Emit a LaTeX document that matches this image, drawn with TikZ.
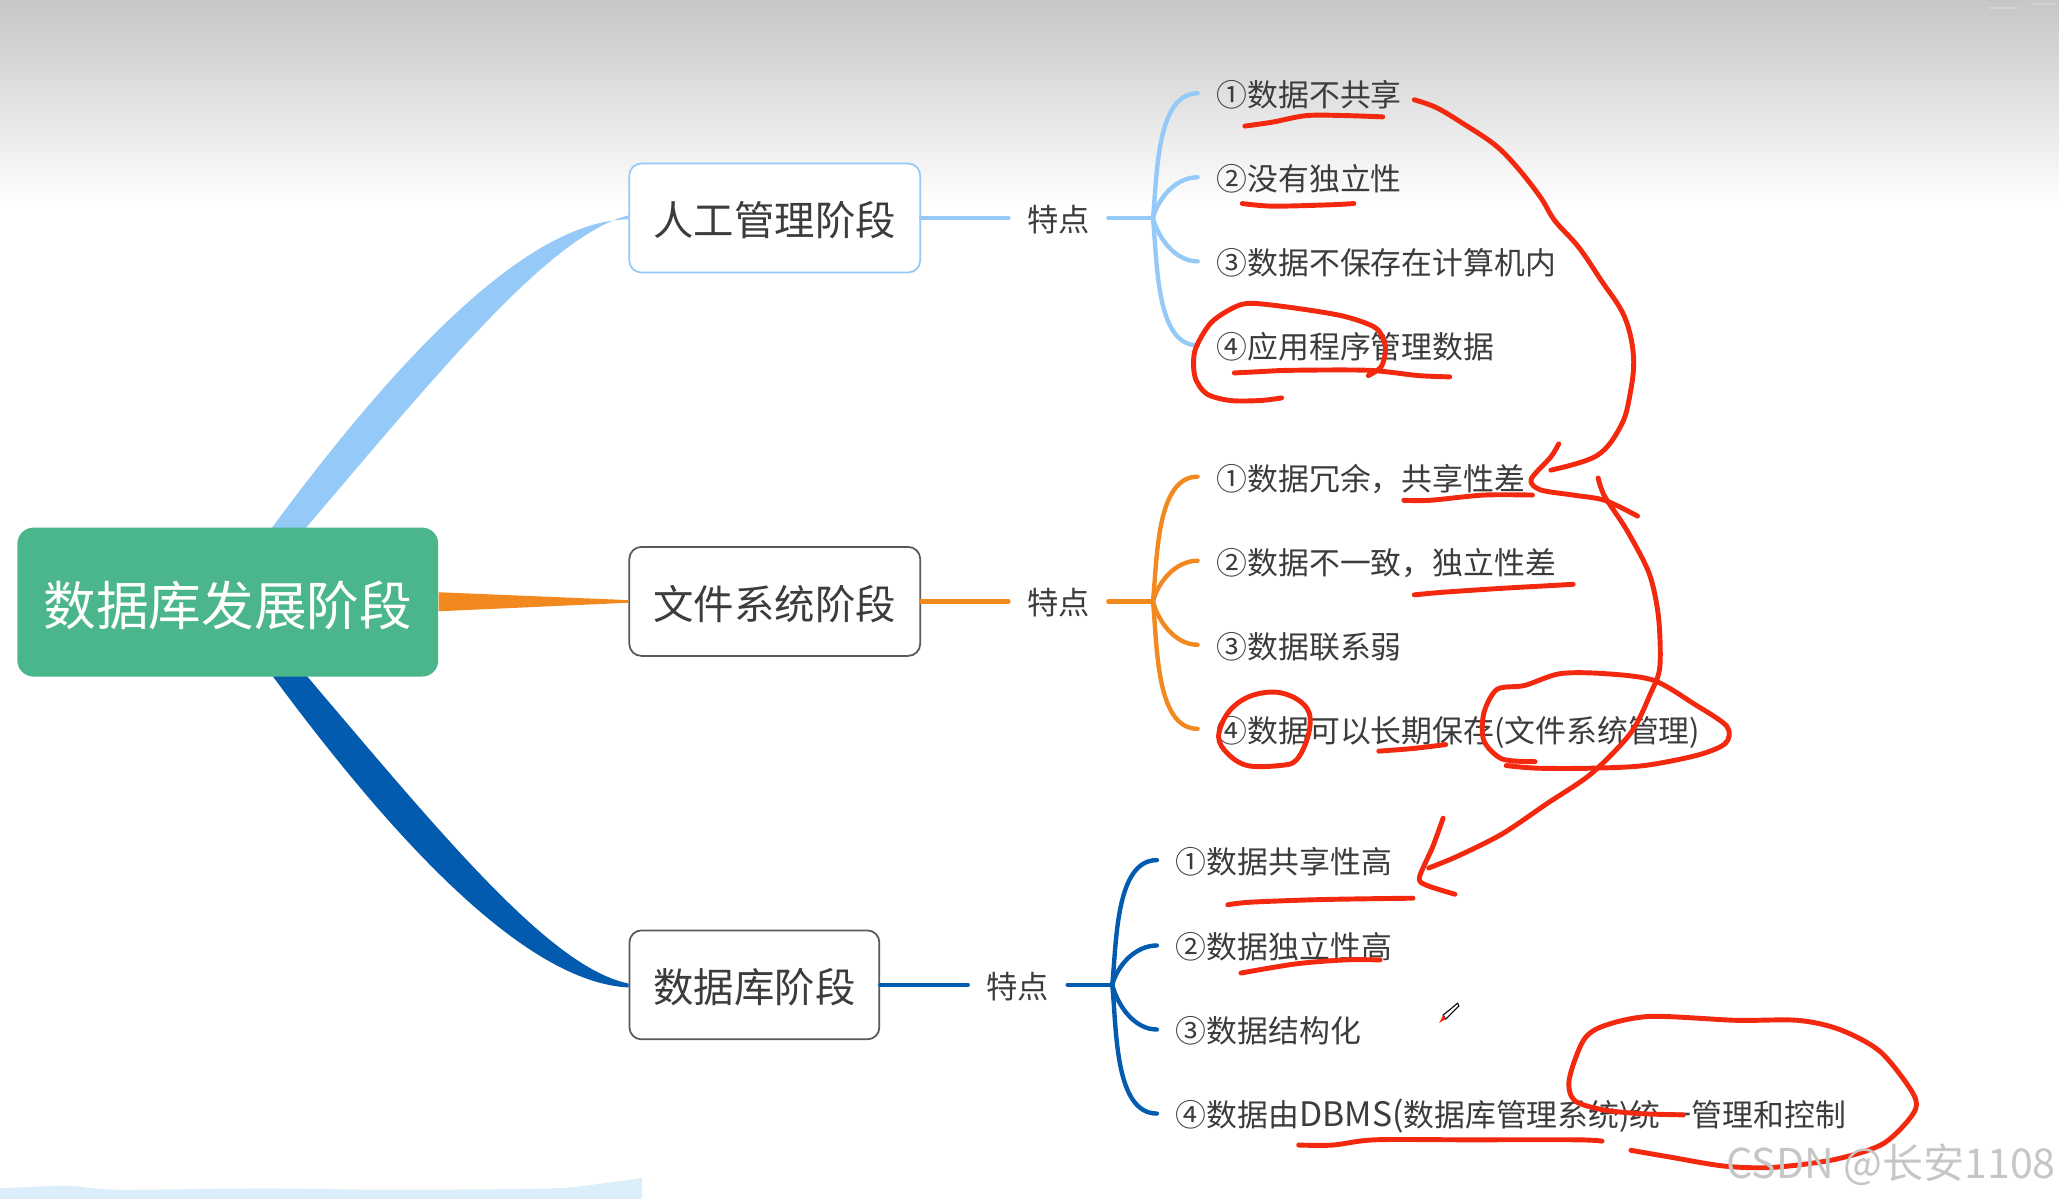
\documentclass[tikz,border=0pt]{standalone}
\usepackage{fontspec}
\setmainfont{Noto Sans CJK SC}
\usetikzlibrary{calc,positioning}
\definecolor{rootgreen}{HTML}{4BB58C}
\definecolor{skyline}{HTML}{95C9F8}
\definecolor{orangeline}{HTML}{F2891E}
\definecolor{blueline}{HTML}{025BAE}
\definecolor{ink}{HTML}{3C3C3C}
\definecolor{penred}{HTML}{F3290F}
\definecolor{topgray}{HTML}{C6C6C6}
\definecolor{paleblue}{HTML}{DCEEFA}

\begin{document}
\begin{tikzpicture}[
  x=0.013131cm, y=-0.013131cm,
  rootnode/.style={rectangle, rounded corners=1.6mm, fill=rootgreen, text=white, minimum width=4.21cm, minimum height=1.49cm, inner sep=0pt, text height=16pt, text depth=2.4pt, font=\fontsize{15}{18}\selectfont},
  stagenode/.style={rectangle, rounded corners=1.2mm, draw=#1, fill=white, text=ink, line width=0.5pt, minimum height=1.09cm, inner sep=0pt, text height=12pt, text depth=1.8pt, font=\fontsize{11.5}{14}\selectfont},
  tagnode/.style={text=ink, inner xsep=0.18cm, inner ysep=1pt, text height=9pt, text depth=1.4pt, font=\fontsize{8.9}{11}\selectfont},
  itemnode/.style={anchor=west, text=ink, inner xsep=0.184cm, inner ysep=1pt, text height=9pt, text depth=1.4pt, font=\fontsize{8.78}{11}\selectfont},
  branch/.style={line width=1.25pt, line cap=round},
  redpen/.style={penred, line width=1.4pt, line cap=round, line join=round}
]
  % page and the two smudges from the screenshot
  \fill[white] (0,0) rectangle (1568,913);
  \shade[top color=topgray, bottom color=white] (0,0) rectangle (1568,157);
  \fill[paleblue] plot[smooth, tension=0.5] coordinates {(0,905) (50,903) (90,906) (200,905) (300,906) (420,905) (460,901) (489,897)} -- (489,913) -- (0,913) -- cycle;
  \draw[gray!35, line width=0.5pt] (1514,6) -- (1537,6) (1548,3) -- (1566,3);

  \node[stagenode=skyline, minimum width=2.91cm] (stage1) at (590,166) {人工管理阶段};
  \node[stagenode=ink!85, minimum width=2.91cm] (stage2) at (590,458) {文件系统阶段};
  \node[stagenode=ink!85, minimum width=2.5cm] (stage3) at (574.5,750) {数据库阶段};

  % ribbons into the stages, the root goes on top of their ends
  \fill[skyline] (207,402) .. controls (300,276) and (400,168) .. ($(stage1.west)+(0,1)$) -- ($(stage1.west)+(0,-2)$) .. controls (420,179) and (340,276) .. (233,402) -- cycle;
  \fill[orangeline] (334,451) -- ($(stage2.west)+(0,-1)$) -- ($(stage2.west)+(0,1)$) -- (334,465.5) -- cycle;
  \fill[blueline] (207,514) .. controls (300,640) and (400,748) .. ($(stage3.west)+(0,2)$) -- ($(stage3.west)+(0,-1)$) .. controls (420,737) and (340,640) .. (233,514) -- cycle;
  \node[rootnode] (root) at (173.5,458.5) {数据库发展阶段};

  \node[tagnode] (tag1) at (806,166) {特点};
  \node[tagnode] (tag2) at (806,458) {特点};
  \node[tagnode] (tag3) at (775,750) {特点};
  \coordinate (hub1) at (878,166);
  \coordinate (hub2) at (878,458);
  \coordinate (hub3) at (847,750);

  \node[itemnode] (a1) at (912,71) {①数据不共享};
  \node[itemnode] (a2) at (912,135) {②没有独立性};
  \node[itemnode] (a3) at (912,199) {③数据不保存在计算机内};
  \node[itemnode] (a4) at (912,263) {④应用程序管理数据};
  \node[itemnode] (b1) at (912,363) {①数据冗余，共享性差};
  \node[itemnode] (b2) at (912,427) {②数据不一致，独立性差};
  \node[itemnode] (b3) at (912,491) {③数据联系弱};
  \node[itemnode] (b4) at (912,555) {④数据可以长期保存(文件系统管理)};
  \node[itemnode] (c1) at (881,655) {①数据共享性高};
  \node[itemnode] (c2) at (881,720) {②数据独立性高};
  \node[itemnode] (c3) at (881,784) {③数据结构化};
  \node[itemnode] (c4) at (881,848) {④数据由{\fontsize{9.6}{11}\selectfont DBMS(}数据库管理系统)统一管理和控制};

  \foreach \grp/\col/\n in {a/skyline/1, b/orangeline/2, c/blueline/3} {
    \draw[branch, \col] (stage\n) -- (tag\n);
    \draw[branch, \col] (tag\n) -- (hub\n);
    \draw[branch, \col] (hub\n) to[out=84, in=180, looseness=0.8] (\grp1.west);
    \draw[branch, \col] (hub\n) to[out=75, in=180, looseness=0.9] (\grp2.west);
    \draw[branch, \col] (hub\n) to[out=-75, in=180, looseness=0.9] (\grp3.west);
    \draw[branch, \col] (hub\n) to[out=-84, in=180, looseness=0.8] (\grp4.west);
  }

  % pen marks, first block
  \draw[redpen] plot[smooth, tension=0.5] coordinates {(948,96) (969,93) (995,88) (1024,88) (1053,89)};
  \draw[redpen] plot[smooth, tension=0.5] coordinates {(946,155) (969,157) (1012,156) (1031,155)};
  \draw[redpen] plot[smooth, tension=0.5] coordinates {(976,303) (960,305) (937,305) (919,300) (910,287) (910,267) (922,246) (940,234) (954,231) (989,235) (1024,241) (1048,250) (1055,264) (1052,279) (1042,286)};
  \draw[redpen] plot[smooth, tension=0.5] coordinates {(940,284) (960,283) (983,282) (1042,282) (1080,286) (1104,287)};
  \draw[redpen] plot[smooth, tension=0.6] coordinates {(1077,76) (1094,82) (1114,94) (1138,110) (1155,127) (1173,150) (1184,168) (1202,188) (1219,213) (1237,241) (1244,272) (1241,302) (1234,325) (1216,347) (1181,358)};
  \draw[redpen] plot[smooth, tension=0.5] coordinates {(1187,338) (1181,348) (1166,365) (1173,373) (1198,377) (1222,381) (1247,393)};
  % second block
  \draw[redpen] plot[smooth, tension=0.5] coordinates {(1069,381) (1089,381) (1130,377) (1167,377)};
  \draw[redpen] plot[smooth, tension=0.5] coordinates {(1077,453) (1099,451) (1144,448) (1198,445)};
  \draw[redpen] plot[smooth cycle, tension=0.6] coordinates {(970,527) (950,531) (935,543) (928,561) (935,574) (950,583) (974,583) (987,579) (996,561) (997,543) (987,532)};
  \draw[redpen] plot[smooth, tension=0.5] coordinates {(1050,572) (1076,570) (1101,567)};
  \draw[redpen] plot[smooth, tension=0.5] coordinates {(1169,580) (1144,578) (1130,564) (1130,543) (1140,525) (1161,522) (1188,513) (1222,513) (1259,518) (1290,536) (1315,553) (1314,566) (1293,575) (1252,583) (1212,585) (1171,585) (1147,583)};
  \draw[redpen] plot[smooth, tension=0.5] coordinates {(1217,364) (1222,378) (1239,404) (1256,437) (1263,470) (1264,508) (1257,528) (1242,558) (1212,589) (1178,612) (1144,635) (1110,652) (1088,661)};
  \draw[redpen] plot[smooth, tension=0.5] coordinates {(1099,623) (1091,645) (1081,668) (1086,674) (1108,681)};
  % third block
  \draw[redpen] plot[smooth, tension=0.5] coordinates {(935,689) (953,687) (1008,685) (1076,684)};
  \draw[redpen] plot[smooth, tension=0.5] coordinates {(945,741) (987,734) (1024,731) (1051,731)};
  \draw[redpen] plot[smooth, tension=0.5] coordinates {(989,872) (1015,872) (1047,868) (1117,868) (1201,868) (1220,869)};
  \draw[redpen] plot[smooth, tension=0.5] coordinates {(1282,849) (1248,848) (1220,845) (1199,838) (1195,822) (1206,792) (1222,781) (1257,774) (1322,777) (1369,777) (1401,784) (1432,801) (1457,833) (1457,848) (1434,871) (1397,883) (1350,889) (1313,888) (1271,881) (1242,876)};

  % pen cursor
  \draw[black, line width=0.3pt, fill=white] (1099,773) -- (1110,764) -- (1111,766) -- (1101,776) -- cycle;
  \fill[penred] (1096,779) -- (1099,773) -- (1101,776) -- cycle;

  \node[anchor=east, text=gray!45, inner sep=0pt, font=\fontsize{11.7}{15}\selectfont] (mark) at (1566,887) {CSDN @长安1108};
\end{tikzpicture}
\end{document}
